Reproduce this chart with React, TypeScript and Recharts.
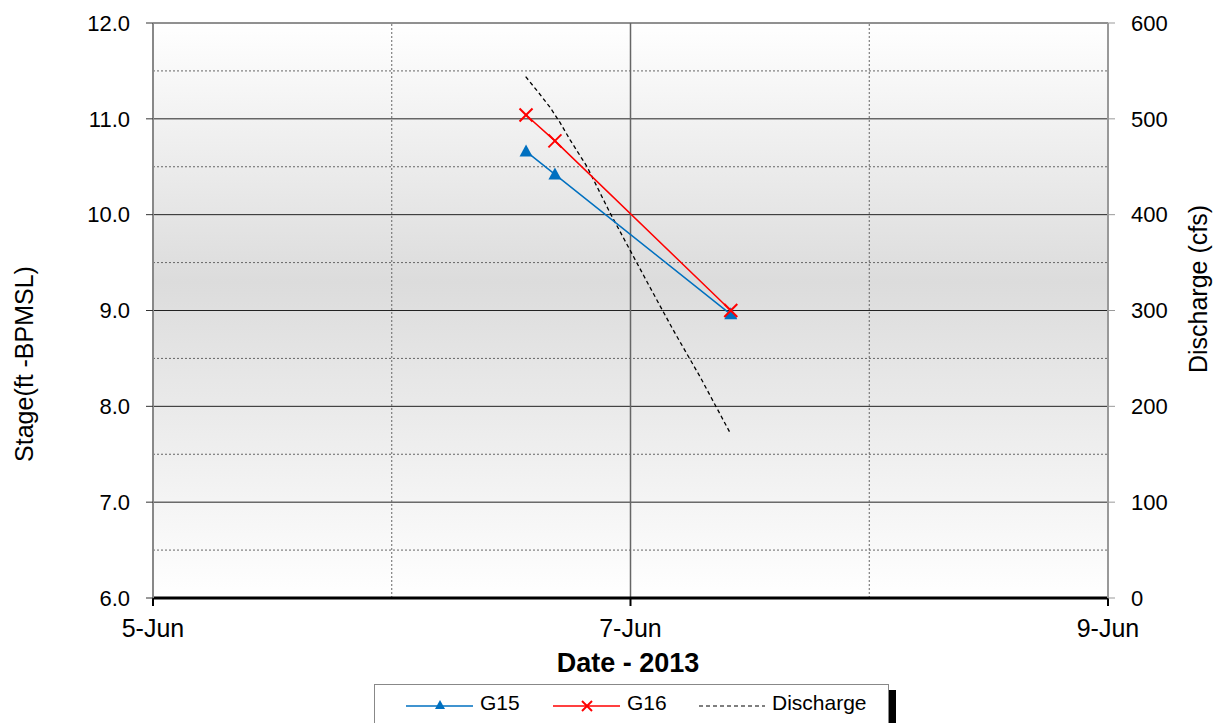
import React from 'react'
import {
  CartesianGrid,
  Line,
  LineChart,
  ReferenceLine,
  XAxis,
  YAxis,
} from 'recharts'

// Days counted from 5-Jun-2013 00:00
const xTickDays = [0, 2, 4]
const xTickLabels = ['5-Jun', '7-Jun', '9-Jun']
const xGridSolid = [2]
const xGridDotted = [1, 3]

const stageTicks = [6, 7, 8, 9, 10, 11, 12]
const stageMinor = [6.5, 7.5, 8.5, 9.5, 10.5, 11.5]
const dischargeTicks = [0, 100, 200, 300, 400, 500, 600]

const g15Days = [1.5625, 1.6835, 2.42]
const g15Stage = [10.66, 10.42, 8.96]

const g16Days = [1.5625, 1.6835, 2.42]
const g16Stage = [11.04, 10.77, 9.0]

const dischargeDays = [1.561, 1.613, 1.663, 1.705, 1.747, 1.818, 1.914, 1.998, 2.082, 2.178, 2.291, 2.42]
const dischargeCfs = [544, 528, 512, 496, 478, 450, 402, 363, 324, 280, 231, 171]

const g15Data = g15Days.map((d, i) => ({ day: d, stage: g15Stage[i] }))
const g16Data = g16Days.map((d, i) => ({ day: d, stage: g16Stage[i] }))
const dischargeData = dischargeDays.map((d, i) => ({ day: d, cfs: dischargeCfs[i] }))

const FONT = '"Liberation Sans", Arial, sans-serif'
const BLUE = '#0070C0'
const RED = '#FF0000'

// triangle marker for G15
const TriangleDot = (props: any) => {
  const { cx, cy } = props
  if (cx == null || cy == null) return null
  return <path d={`M${cx},${cy - 7} L${cx + 6.5},${cy + 5} L${cx - 6.5},${cy + 5} Z`} fill={BLUE} />
}

// x marker for G16
const CrossDot = (props: any) => {
  const { cx, cy } = props
  if (cx == null || cy == null) return null
  const s = 6.5
  return (
    <g stroke={RED} strokeWidth={2}>
      <line x1={cx - s} y1={cy - s} x2={cx + s} y2={cy + s} />
      <line x1={cx - s} y1={cy + s} x2={cx + s} y2={cy - s} />
    </g>
  )
}

function ChartLegend() {
  const text = { position: 'absolute' as const, top: 6, fontFamily: FONT, fontSize: 21, color: '#000' }
  return (
    <>
      <div style={{ position: 'absolute', left: 889, top: 690, width: 7, height: 40, background: '#000' }} />
      <div
        style={{
          position: 'absolute',
          left: 374,
          top: 684,
          width: 515,
          height: 50,
          border: '1px solid #888',
          background: '#fff',
          boxSizing: 'border-box',
        }}
      >
        <svg style={{ position: 'absolute', left: 0, top: 0 }} width={515} height={40}>
          <line x1={31} y1={21} x2={98} y2={21} stroke={BLUE} strokeWidth={1.5} />
          <path d="M65,15 L70,24 L60,24 Z" fill={BLUE} />
          <line x1={178} y1={21} x2={245} y2={21} stroke={RED} strokeWidth={1.5} />
          <g stroke={RED} strokeWidth={2}>
            <line x1={207} y1={16} x2={217} y2={26} />
            <line x1={207} y1={26} x2={217} y2={16} />
          </g>
          <line x1={324} y1={21} x2={390} y2={21} stroke="#000" strokeWidth={1.2} strokeDasharray="4 3" />
        </svg>
        <span style={{ ...text, left: 105 }}>G15</span>
        <span style={{ ...text, left: 252 }}>G16</span>
        <span style={{ ...text, left: 397 }}>Discharge</span>
      </div>
    </>
  )
}

export default function App() {
  return (
    <div style={{ position: 'absolute', left: 0, top: 0, width: 1220, height: 723, background: '#fff', overflow: 'hidden' }}>
      <LineChart width={1220} height={723} margin={{ top: 23, right: 0, bottom: 0, left: 0 }}>
        <defs>
          <linearGradient id="plotBg" x1="0" y1="0" x2="0" y2="1">
            <stop offset="0%" stopColor="#ffffff" />
            <stop offset="45%" stopColor="#dcdcdc" />
            <stop offset="100%" stopColor="#ffffff" />
          </linearGradient>
        </defs>
        <CartesianGrid yAxisId="left" horizontal={false} vertical={false} fill="url(#plotBg)" fillOpacity={1} />
        <XAxis
          dataKey="day"
          type="number"
          domain={[0, 4]}
          ticks={xTickDays}
          allowDataOverflow
          tickFormatter={(v: number) => xTickLabels[xTickDays.indexOf(v)] ?? ''}
          height={125}
          axisLine={{ stroke: '#000', strokeWidth: 3 }}
          tickLine={{ stroke: '#000', strokeWidth: 2 }}
          tickSize={8}
          tickMargin={13}
          tick={{ fill: '#000', fontSize: 25, fontFamily: FONT }}
        />
        <YAxis
          yAxisId="left"
          orientation="left"
          type="number"
          domain={[6, 12]}
          ticks={stageTicks}
          width={153}
          tickFormatter={(v: number) => v.toFixed(1)}
          axisLine={{ stroke: '#888', strokeWidth: 2 }}
          tickLine={{ stroke: '#333' }}
          tickSize={7}
          tickMargin={16}
          tick={{ fill: '#000', fontSize: 22, fontFamily: FONT }}
        />
        <YAxis
          yAxisId="right"
          orientation="right"
          type="number"
          domain={[0, 600]}
          ticks={dischargeTicks}
          width={112}
          axisLine={{ stroke: '#999', strokeWidth: 2 }}
          tickLine={{ stroke: '#999' }}
          tickSize={7}
          tickMargin={16}
          tick={{ fill: '#000', fontSize: 22, fontFamily: FONT }}
        />
        {stageMinor.map((v) => (
          <ReferenceLine key={`mn-${v}`} yAxisId="left" y={v} stroke="#666" strokeDasharray="2 2" />
        ))}
        {stageTicks.slice(1).map((v) => (
          <ReferenceLine key={`mj-${v}`} yAxisId="left" y={v} stroke="#222" />
        ))}
        {xGridDotted.map((v) => (
          <ReferenceLine key={`vd-${v}`} yAxisId="left" x={v} stroke="#666" strokeDasharray="2 2" />
        ))}
        {xGridSolid.map((v) => (
          <ReferenceLine key={`vs-${v}`} yAxisId="left" x={v} stroke="#666" strokeWidth={1.5} />
        ))}
        <Line
          yAxisId="right"
          data={dischargeData}
          dataKey="cfs"
          name="Discharge"
          stroke="#000"
          strokeWidth={1.3}
          strokeDasharray="4 3"
          dot={false}
          isAnimationActive={false}
        />
        <Line
          yAxisId="left"
          data={g15Data}
          dataKey="stage"
          name="G15"
          stroke={BLUE}
          strokeWidth={1.5}
          dot={<TriangleDot />}
          isAnimationActive={false}
        />
        <Line
          yAxisId="left"
          data={g16Data}
          dataKey="stage"
          name="G16"
          stroke={RED}
          strokeWidth={1.5}
          dot={<CrossDot />}
          isAnimationActive={false}
        />
        <text x={24} y={364} transform="rotate(-90 24 364)" textAnchor="middle" dominantBaseline="central" fontFamily={FONT} fontSize={25} fill="#000">
          Stage(ft -BPMSL)
        </text>
        <text x={1198} y={289} transform="rotate(-90 1198 289)" textAnchor="middle" dominantBaseline="central" fontFamily={FONT} fontSize={25} fill="#000">
          Discharge (cfs)
        </text>
        <text x={628} y={663} textAnchor="middle" dominantBaseline="central" fontFamily={FONT} fontSize={27} fontWeight="bold" fill="#000">
          Date - 2013
        </text>
      </LineChart>
      <ChartLegend />
    </div>
  )
}
